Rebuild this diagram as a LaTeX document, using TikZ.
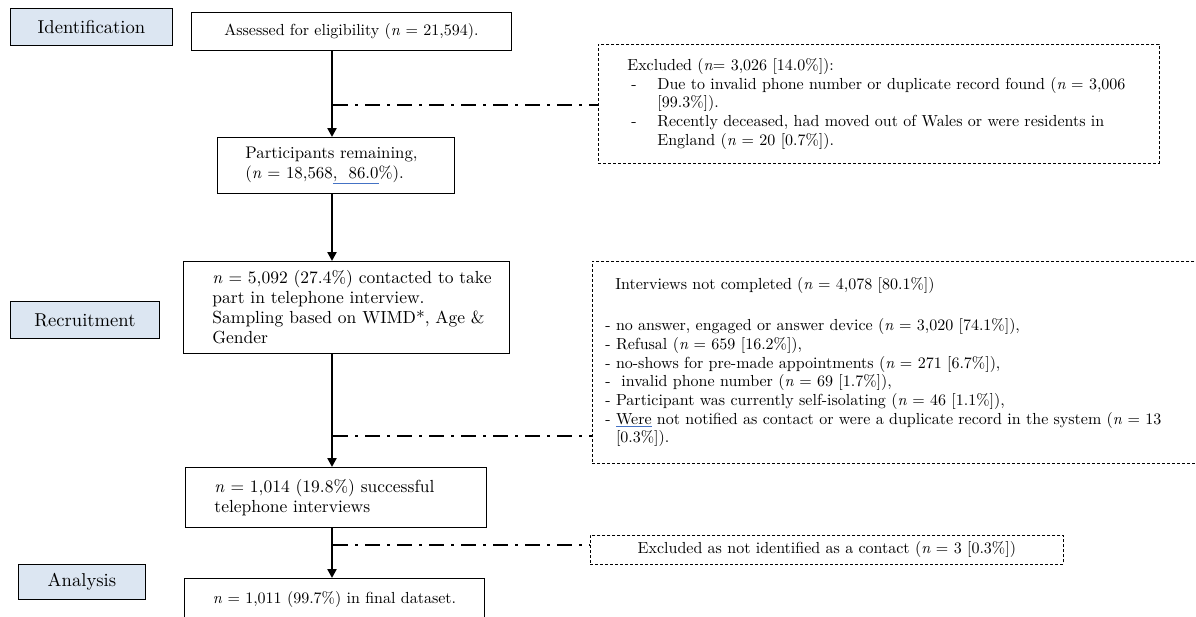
\documentclass[tikz,border=0pt]{standalone}
\usepackage{fontspec}
\setmainfont{lmroman10-regular.otf}[ItalicFont=lmroman10-italic.otf]
\usetikzlibrary{arrows.meta}
\definecolor{labfill}{HTML}{DCE6F2}
\definecolor{ulblue}{HTML}{4472C4}
\newcommand{\nn}{\textit{n}}
\newcommand{\blueul}[1]{{\color{ulblue}\underline{\color{black}#1}}}
\hyphenpenalty=10000 \exhyphenpenalty=10000
\begin{document}
\begin{tikzpicture}[x=1pt,y=-1pt,
  lab/.style={draw, fill=labfill, line width=0.9pt, anchor=north west, inner sep=0pt,
    font=\fontsize{18.6}{22}\selectfont, align=center},
  box/.style={draw, line width=0.9pt, anchor=north west, inner sep=0pt,
    font=\fontsize{17.5}{20}\selectfont, align=left},
  pad/.style={execute at begin node={\leftskip=#1\relax}},
  dbox/.style={box, line width=0.7pt, dash pattern=on 3pt off 2pt,
    font=\fontsize{16}{18.7}\selectfont},
  arr/.style={line width=2.4pt, -{Triangle[length=9pt,width=9pt]}},
  dd/.style={line width=2.8pt, dash pattern=on 15pt off 7pt on 3pt off 7pt}]
\useasboundingbox (0,0) rectangle (1196,616);
\clip (0,0) rectangle (1196,616);
\fill[white] (0,0) rectangle (1196,616);

% stage labels
\node[lab, minimum width=162pt, minimum height=37pt] (idlab) at (10,8) {Identification};
\node[lab, minimum width=149pt, minimum height=37pt] (recr) at (10,301) {Recruitment};
\node[lab, minimum width=127pt, minimum height=35pt] (anal) at (18,564) {Analysis};

% main boxes
\node[box, text width=320pt, align=center, minimum height=38pt,
  font=\fontsize{16}{19}\selectfont] (assess) at (191,12)
  {Assessed for eligibility (\nn{} = 21,594).};
\node[box, pad=28pt, text width=237pt, minimum height=56pt,
  font=\fontsize{16.8}{19.5}\selectfont] (part) at (217,137)
  {Participants remaining,\\ (\nn{} = 18,568\blueul{,\ \ 86.0}\%).};
\node[box, pad=29pt, text width=326pt, minimum height=92pt] (cont) at (183,261)
  {\nn{} = 5,092 (27.4\%) contacted to take\\ part in telephone interview.\\ Sampling based on WIMD*, Age \&\\ Gender};
\node[box, pad=29pt, text width=301pt, minimum height=60pt] (succ) at (185,467)
  {\nn{} = 1,014 (19.8\%) successful\\ telephone interviews};
\node[box, text width=300pt, align=center, minimum height=42pt,
  font=\fontsize{16}{19}\selectfont] (final) at (184,578)
  {\nn{} = 1,011 (99.7\%) in final dataset.};

% exclusion boxes
\node[dbox, pad=29pt, text width=561pt, minimum height=119pt] (excl1) at (598,44)
  {Excluded (\nn{}= 3,026 [14.0\%]):\\
   \hspace*{4pt}\makebox[26pt][l]{-}Due to invalid phone number or duplicate record found (\nn{} = 3,006\\
   \hspace*{30pt}[99.3\%]).\\
   \hspace*{4pt}\makebox[26pt][l]{-}Recently deceased, had moved out of Wales or were residents in\\
   \hspace*{30pt}England (\nn{} = 20 [0.7\%]).};
\node[dbox, pad=13pt, text width=700pt, minimum height=202pt] (box2) at (592,261)
  {\hspace*{10pt}Interviews not completed (\nn{} = 4,078 [80.1\%])\\[22pt]
   - no answer, engaged or answer device (\nn{} = 3,020 [74.1\%]),\\
   - Refusal (\nn{} = 659 [16.2\%]),\\
   - no-shows for pre-made appointments (\nn{} = 271 [6.7\%]),\\
   - \ invalid phone number (\nn{} = 69 [1.7\%]),\\
   - Participant was currently self-isolating (\nn{} = 46 [1.1\%]),\\
   - \blueul{Were} not notified as contact or were a duplicate record in the system (\nn{} = 13\\
   \phantom{- }[0.3\%]).};
\node[dbox, text width=473pt, align=center, minimum height=29pt] (excl3) at (590,535)
  {Excluded as not identified as a contact (\nn{} = 3 [0.3\%])};

% spine and connectors
\coordinate (spine) at (332,0);
\draw[arr] (assess.south -| spine) -- (part.north -| spine);
\draw[arr] (part.south -| spine) -- (cont.north -| spine);
\draw[arr] (cont.south -| spine) -- (succ.north -| spine);
\draw[arr] (succ.south -| spine) -- (final.north -| spine);

\coordinate (j1) at (333,105);
\coordinate (j2) at (333,436);
\coordinate (j3) at (333,545);
\draw[dd] (j1) -- (j1 -| excl1.west);
\draw[dd] (j2) -- (j2 -| box2.west);
\draw[dd] (j3) -- (j3 -| excl3.west);
\end{tikzpicture}
\end{document}
